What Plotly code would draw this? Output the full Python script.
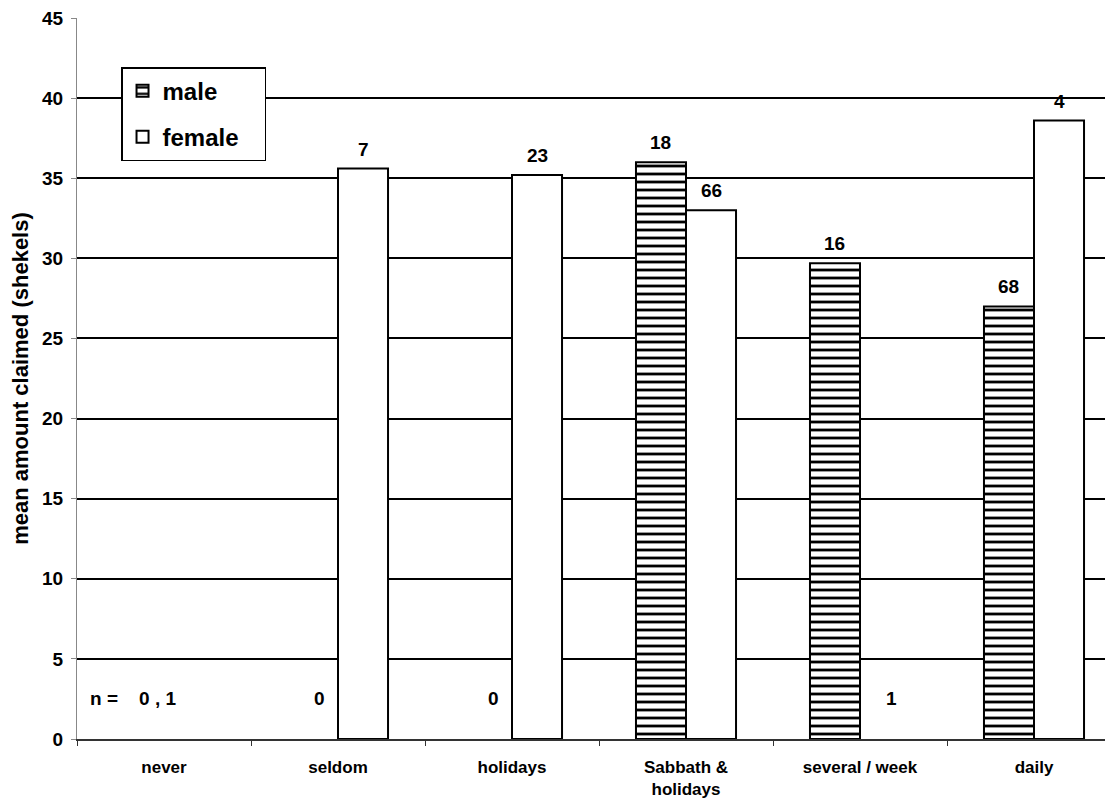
import plotly.graph_objects as go

# ---- data ----
categories = ["never", "seldom", "holidays", "Sabbath &<br>holidays", "several / week", "daily"]
male_mean = [None, None, None, 36.0, 29.7, 27.0]
female_mean = [None, 35.6, 35.2, 33.0, None, 38.6]
male_n = [0, 0, 0, 18, 16, 68]
female_n = [1, 7, 23, 66, 1, 4]
y_tick_vals = [0, 5, 10, 15, 20, 25, 30, 35, 40, 45]

FONT = "Liberation Sans, Arial, sans-serif"
BARGAP = 0.425
half = (1 - BARGAP) / 4  # offset of each bar centre from the category centre
EMPTY_Y = 2.5  # height where n is written for groups without a bar
PAD = "\u00a0\u00a0\u00a0"

fig = go.Figure()
fig.add_trace(go.Bar(
    name="male", x=categories, y=male_mean, legendgroup="m",
    marker=dict(color="white", line=dict(color="black", width=2),
                pattern=dict(shape="-", size=8, solidity=0.35, fgcolor="black",
                             fgopacity=1, bgcolor="white")),
))
fig.add_trace(go.Bar(
    name="female" + PAD, x=categories, y=female_mean, legendgroup="f",
    marker=dict(color="white", line=dict(color="black", width=2)),
))

annotations = []
for i, cat in enumerate(categories):
    if i == 0:
        annotations.append(dict(x=i - 0.18, y=EMPTY_Y, xref="x", yref="y",
                                text=f"n =\u00a0\u00a0\u00a0 {male_n[i]} , {female_n[i]}",
                                showarrow=False, yanchor="middle"))
        continue
    for vals, ns, off in ((male_mean, male_n, -half), (female_mean, female_n, half)):
        v = vals[i]
        if v is None:
            annotations.append(dict(x=i + off + 0.04, y=EMPTY_Y, xref="x", yref="y",
                                    text=str(ns[i]), showarrow=False, yanchor="middle"))
        else:
            annotations.append(dict(x=i + off, y=v, xref="x", yref="y",
                                    text=str(ns[i]), showarrow=False,
                                    yanchor="bottom", yshift=7))

# page body has an 8px default margin, so the figure is sized to fit the window
fig.update_layout(
    width=1105, height=793,
    margin=dict(l=69, r=0, t=10, b=62, autoexpand=False),
    paper_bgcolor="white", plot_bgcolor="white",
    font=dict(family=FONT, size=19, color="black", weight="bold"),
    barmode="group", bargap=BARGAP, bargroupgap=0,
    showlegend=True,
    legend=dict(x=0.0425, y=0.932, xanchor="left", yanchor="top",
                bgcolor="white", bordercolor="black", borderwidth=1.5,
                font=dict(size=24, family=FONT, weight="bold"),
                tracegroupgap=12, traceorder="grouped"),
    annotations=annotations,
)
fig.update_xaxes(
    range=[-0.5, 5.454], type="category", automargin=False,
    showline=True, linecolor="#333", linewidth=1.5,
    ticks="outside", tickson="boundaries", ticklen=5, tickcolor="#333",
    ticklabelstandoff=12, ticklabeloverflow="allow",
    tickfont=dict(size=17, family=FONT, weight="bold"),
    showgrid=False,
)
fig.update_yaxes(
    range=[0, 45], tickvals=y_tick_vals, automargin=False,
    showgrid=True, gridcolor="black", gridwidth=1.5,
    zeroline=False,
    showline=True, linecolor="#888", linewidth=1, mirror=True,
    ticks="outside", ticklen=5, tickcolor="#888",
    ticklabelstandoff=4, ticklabeloverflow="allow",
    tickfont=dict(size=19, family=FONT, weight="bold"),
    title=dict(text="mean amount claimed (shekels)",
               font=dict(size=22, family=FONT, weight="bold")),
)

fig.write_html("out.html")
